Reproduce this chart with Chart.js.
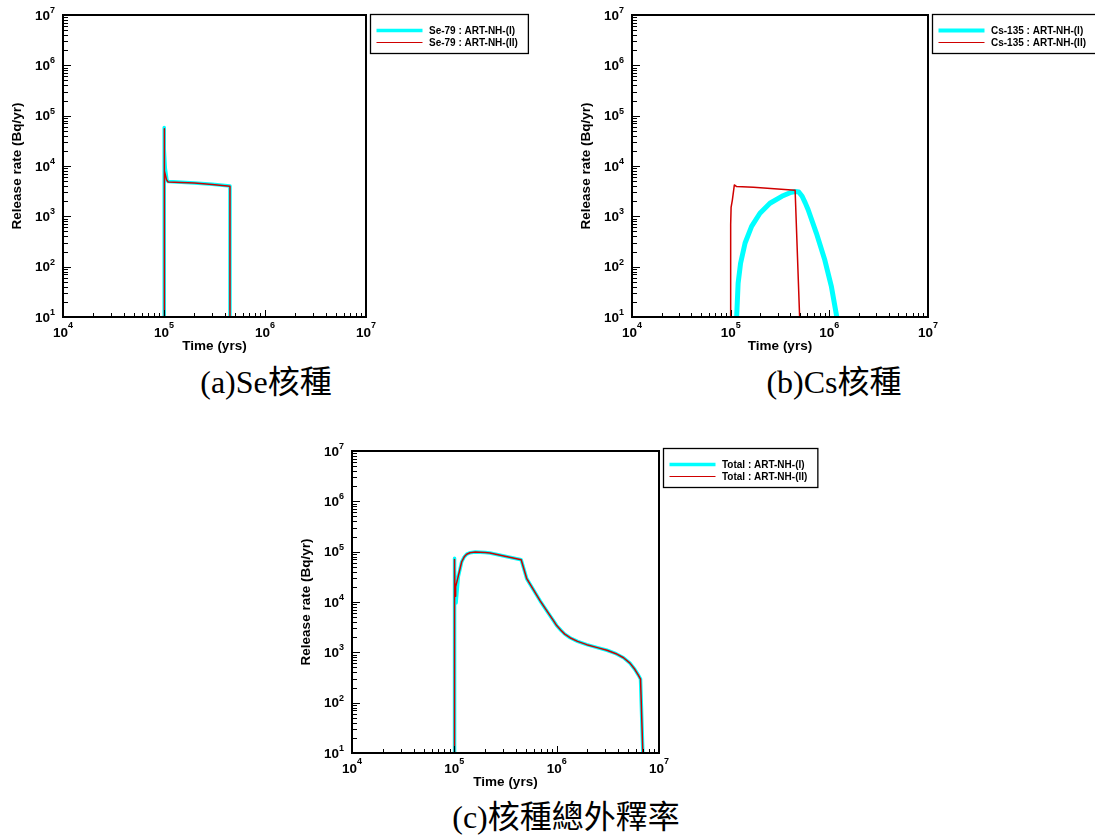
<!DOCTYPE html>
<html>
<head>
<meta charset="utf-8">
<script src="https://cdn.jsdelivr.net/npm/chart.js@4.4.1/dist/chart.umd.min.js"></script>
<style>
  html, body { margin: 0; padding: 0; background: #fff; }
  body { width: 1095px; height: 838px; position: relative; overflow: hidden; }
  canvas { position: absolute; }
  .cap { position: absolute; width: 400px; text-align: center; font-family: "Liberation Serif", "Noto Sans CJK TC", serif; font-size: 32px; line-height: 32px; color: #000; white-space: nowrap; }
</style>
</head>
<body>
<canvas id="ca" width="545" height="360" style="left:0px;top:0px"></canvas>
<canvas id="cb" width="526" height="360" style="left:569px;top:0px"></canvas>
<canvas id="cc" width="540" height="360" style="left:289px;top:436px"></canvas>
<div class="cap" style="left:66px;top:366px">(a)Se核種</div>
<div class="cap" style="left:634px;top:366px">(b)Cs核種</div>
<div class="cap" style="left:366px;top:801px">(c)核種總外釋率</div>
<script>
// ---- axis decades (tick labels) ----
const xDecades = [1e4, 1e5, 1e6, 1e7];
const yDecades = [1e1, 1e2, 1e3, 1e4, 1e5, 1e6, 1e7];

// ---- (a) Se-79 ----
const seTimeI  = [1.0e5, 1.0e5, 1.01e5, 1.03e5, 1.07e5, 1.1e5, 2.0e5, 3.0e5, 4.5e5, 4.5e5];
const seRateI  = [1, 5.8e4, 2.2e4, 9.0e3, 5.2e3, 4.9e3, 4.6e3, 4.35e3, 4.0e3, 1];
const seTimeII = [1.0e5, 1.0e5, 1.005e5, 1.01e5, 1.02e5, 1.06e5, 1.1e5, 2.0e5, 3.0e5, 4.5e5, 4.5e5];
const seRateII = [1, 5.5e4, 1.2e4, 1.6e4, 8.0e3, 5.3e3, 4.8e3, 4.6e3, 4.3e3, 3.95e3, 1];

// ---- (b) Cs-135 ----
const csTimeI  = [1.14e5, 1.15e5, 1.19e5, 1.26e5, 1.40e5, 1.63e5, 1.98e5, 2.5e5, 3.3e5, 4.0e5, 4.5e5, 4.9e5, 5.3e5, 5.7e5, 6.1e5, 7.4e5, 9.0e5, 1.05e6, 1.19e6, 1.25e6];
const csRateI  = [1, 10, 47, 117, 295, 630, 1150, 1820, 2500, 2950, 3120, 3050, 2500, 1850, 1350, 460, 135, 40, 10, 3];
const csTimeII = [1.0e5, 1.0e5, 1.01e5, 1.04e5, 1.09e5, 1.15e5, 1.7e5, 4.5e5, 5.0e5, 5.2e5];
const csRateII = [1, 680, 1500, 2100, 4200, 3900, 3800, 3300, 10, 1];

// ---- (c) Total ----
const totTimeI  = [1.0e5, 1.0e5, 1.01e5, 1.04e5, 1.094e5, 1.18e5, 1.25e5, 1.32e5, 1.42e5, 1.6e5, 2.0e5, 2.23e5, 4.5e5, 5.1e5, 6.9e5, 8.3e5, 9.2e5, 1.0e6, 1.1e6, 1.2e6, 1.35e6, 1.6e6, 1.97e6, 2.5e6, 3.1e6, 3.8e6, 4.5e6, 5.2e6, 5.8e6, 6.3e6, 6.6e6, 6.95e6, 7.1e6];
const totRateI  = [1, 7.4e4, 4.5e4, 9.6e3, 3.2e4, 6.3e4, 7.9e4, 8.9e4, 9.5e4, 9.8e4, 9.6e4, 9.4e4, 6.9e4, 2.9e4, 1.05e4, 6.0e3, 4.4e3, 3.4e3, 2.75e3, 2.3e3, 1.95e3, 1.65e3, 1.42e3, 1.24e3, 1.1e3, 940, 780, 610, 460, 350, 293, 10, 1];
const totTimeII = [1.0e5, 1.0e5, 1.008e5, 1.016e5, 1.03e5, 1.094e5, 1.18e5, 1.25e5, 1.32e5, 1.42e5, 1.6e5, 2.0e5, 2.23e5, 4.5e5, 5.1e5, 6.9e5, 8.3e5, 9.2e5, 1.0e6, 1.1e6, 1.2e6, 1.35e6, 1.6e6, 1.97e6, 2.5e6, 3.1e6, 3.8e6, 4.5e6, 5.2e6, 5.8e6, 6.3e6, 6.6e6, 6.95e6, 7.1e6];
const totRateII = [1, 7.0e4, 5.0e4, 1.3e4, 2.0e4, 3.3e4, 6.3e4, 7.9e4, 8.9e4, 9.5e4, 9.8e4, 9.6e4, 9.4e4, 6.9e4, 2.9e4, 1.05e4, 6.0e3, 4.4e3, 3.4e3, 2.75e3, 2.3e3, 1.95e3, 1.65e3, 1.42e3, 1.24e3, 1.1e3, 940, 780, 610, 460, 350, 293, 10, 1];

const CYAN = '#00ffff';
const RED = '#d00000';
const SANS = '"Liberation Sans", Arial, sans-serif';

function pts(t, v) { return t.map((x, i) => ({ x: x, y: v[i] })); }

function minorsOf(decades) {
  const out = [];
  for (let i = 0; i < decades.length - 1; i++) {
    for (let k = 2; k <= 9; k++) out.push(decades[i] * k);
  }
  return out;
}

const axisDecor = {
  id: 'axisDecor',
  afterDraw(chart) {
    const { ctx, chartArea: a, scales: { x, y } } = chart;
    ctx.save();
    ctx.strokeStyle = '#000';
    ctx.lineWidth = 1;
    minorsOf(xDecades).forEach(v => {
      const px = Math.round(x.getPixelForValue(v)) + 0.5;
      ctx.beginPath(); ctx.moveTo(px, a.bottom); ctx.lineTo(px, a.bottom - 4); ctx.stroke();
    });
    xDecades.forEach(v => {
      const px = Math.round(x.getPixelForValue(v)) + 0.5;
      ctx.beginPath(); ctx.moveTo(px, a.bottom); ctx.lineTo(px, a.bottom - 7); ctx.stroke();
    });
    minorsOf(yDecades).forEach(v => {
      const py = Math.round(y.getPixelForValue(v)) + 0.5;
      ctx.beginPath(); ctx.moveTo(a.left, py); ctx.lineTo(a.left + 5, py); ctx.stroke();
    });
    yDecades.forEach(v => {
      const py = Math.round(y.getPixelForValue(v)) + 0.5;
      ctx.beginPath(); ctx.moveTo(a.left, py); ctx.lineTo(a.left + 8, py); ctx.stroke();
    });
    ctx.lineWidth = 2;
    ctx.strokeRect(a.left, a.top, a.right - a.left, a.bottom - a.top);

    ctx.fillStyle = '#000';
    ctx.textBaseline = 'middle';
    const baseFont = 'bold 13.5px ' + SANS;
    const supFont = 'bold 9px ' + SANS;
    xDecades.forEach(v => {
      const e = String(Math.round(Math.log10(v)));
      ctx.font = baseFont; const bw = ctx.measureText('10').width;
      ctx.font = supFont; const sw = ctx.measureText(e).width;
      const cx = x.getPixelForValue(v);
      const x0 = cx - (bw + sw) / 2;
      ctx.textAlign = 'left';
      ctx.font = baseFont; ctx.fillText('10', x0, a.bottom + 16);
      ctx.font = supFont; ctx.fillText(e, x0 + bw, a.bottom + 9);
    });
    yDecades.forEach(v => {
      const e = String(Math.round(Math.log10(v)));
      ctx.font = supFont; const sw = ctx.measureText(e).width;
      const cy = y.getPixelForValue(v);
      const xr = a.left - 8;
      ctx.textAlign = 'right';
      ctx.font = supFont; ctx.fillText(e, xr, cy - 4.5);
      ctx.font = baseFont; ctx.fillText('10', xr - sw, cy + 1);
    });
    ctx.restore();
  }
};

const boxLegend = {
  id: 'boxLegend',
  afterDraw(chart, args, o) {
    const ctx = chart.ctx;
    ctx.save();
    ctx.font = 'bold 10px ' + SANS;
    const dsets = chart.data.datasets;
    const tw = Math.max(...dsets.map(d => ctx.measureText(d.label).width));
    const x0 = o.x, y0 = o.y;
    const w = 59 + tw + 10, h = 39;
    ctx.lineWidth = 1.3;
    ctx.strokeStyle = '#000';
    ctx.strokeRect(x0 + 0.5, y0 + 0.5, w, h);
    dsets.forEach((d, i) => {
      const cy = y0 + 16.5 + i * 12;
      ctx.strokeStyle = d.borderColor;
      ctx.lineWidth = d.legendWidth;
      ctx.beginPath(); ctx.moveTo(x0 + 6.5, cy); ctx.lineTo(x0 + 52.5, cy); ctx.stroke();
      ctx.fillStyle = '#000';
      ctx.textAlign = 'left';
      ctx.textBaseline = 'middle';
      ctx.fillText(d.label, x0 + 59, cy + 0.5);
    });
    ctx.restore();
  }
};

function makeChart(id, cfg) {
  const canvas = document.getElementById(id);
  const W = canvas.width, H = canvas.height;
  const titleFont = { family: SANS, size: 13.5, weight: 'bold' };
  return new Chart(canvas, {
    type: 'line',
    data: {
      datasets: [
        { label: cfg.labels[0], data: pts(cfg.tI, cfg.vI), borderColor: CYAN, borderWidth: cfg.cyanWidth, legendWidth: cfg.cyanLegend, pointRadius: 0, tension: 0, fill: false, order: 2, borderJoinStyle: 'round' },
        { label: cfg.labels[1], data: pts(cfg.tII, cfg.vII), borderColor: RED, borderWidth: 1.5, legendWidth: 1.2, pointRadius: 0, tension: 0, fill: false, order: 1, borderJoinStyle: 'round' }
      ]
    },
    options: {
      responsive: false,
      animation: false,
      devicePixelRatio: 1,
      layout: { padding: { left: 0, top: cfg.area.t, right: W - cfg.area.r, bottom: 0 } },
      plugins: {
        legend: { display: false },
        tooltip: { enabled: false },
        boxLegend: { x: cfg.legend.x, y: cfg.legend.y }
      },
      scales: {
        x: {
          type: 'logarithmic', min: 1e4, max: 1e7,
          grid: { display: false, drawTicks: false },
          border: { display: false },
          ticks: { display: false },
          title: { display: true, text: 'Time (yrs)', color: '#000', font: titleFont, padding: { top: 0, bottom: 5.4 } },
          afterFit(s) { s.height = H - cfg.area.b; }
        },
        y: {
          type: 'logarithmic', min: 1e1, max: 1e7,
          grid: { display: false, drawTicks: false },
          border: { display: false },
          ticks: { display: false },
          title: { display: true, text: 'Release rate (Bq/yr)', color: '#000', font: titleFont, padding: { top: 9.4, bottom: 0 } },
          afterFit(s) { s.width = cfg.area.l; }
        }
      }
    },
    plugins: [axisDecor, boxLegend]
  });
}

makeChart('ca', {
  labels: ['Se-79 : ART-NH-(I)', 'Se-79 : ART-NH-(II)'],
  tI: seTimeI, vI: seRateI, tII: seTimeII, vII: seRateII,
  cyanWidth: 3.5, cyanLegend: 3.5,
  area: { l: 63, t: 15, r: 366, b: 317 },
  legend: { x: 370, y: 14 }
});
makeChart('cb', {
  labels: ['Cs-135 : ART-NH-(I)', 'Cs-135 : ART-NH-(II)'],
  tI: csTimeI, vI: csRateI, tII: csTimeII, vII: csRateII,
  cyanWidth: 5, cyanLegend: 4,
  area: { l: 63, t: 15, r: 359, b: 317 },
  legend: { x: 363, y: 14 }
});
makeChart('cc', {
  labels: ['Total : ART-NH-(I)', 'Total : ART-NH-(II)'],
  tI: totTimeI, vI: totRateI, tII: totTimeII, vII: totRateII,
  cyanWidth: 3.5, cyanLegend: 3.5,
  area: { l: 63, t: 15, r: 370, b: 317 },
  legend: { x: 374, y: 12 }
});
</script>
</body>
</html>
